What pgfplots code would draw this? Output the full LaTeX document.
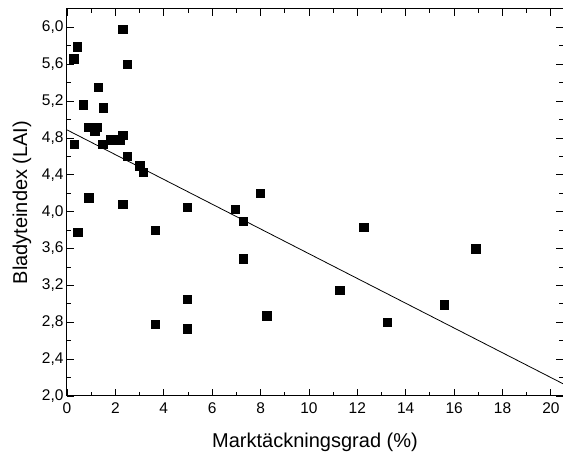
\documentclass[border=0pt]{standalone}
\usepackage{fontspec}
\setmainfont{Liberation Sans}
\usepackage{pgfplots}
\pgfplotsset{compat=1.18}
\begin{document}
\begin{tikzpicture}
\begin{axis}[
  name=ax,
  scale only axis,
  width=496pt, height=387pt,
  xmin=0, xmax=20.5, ymin=2, ymax=6.2,
  xtick={0,2,...,20},
  ytick={2.0,2.4,2.8,3.2,3.6,4.0,4.4,4.8,5.2,5.6,6.0},
  minor x tick num=1, minor y tick num=1,
  tick align=inside,
  major tick length=7pt, minor tick length=4pt,
  axis line style={line width=1pt},
  every tick/.style={black, line width=0.9pt},
  /pgf/number format/assume math mode=true,
  tick label style={font=\fontsize{15.5}{18}\selectfont},
  xticklabel style={yshift=-3pt, /pgf/number format/.cd, fixed, precision=0},
  yticklabel style={/pgf/number format/.cd, fixed, fixed zerofill, precision=1, use comma},
  label style={font=\fontsize{20}{24}\selectfont},
  xlabel={Marktäckningsgrad (\%)},
  ylabel={Bladyteindex (LAI)},
  xlabel style={at={(axis description cs:0.5,0)}, anchor=base, yshift=-52pt},
  ylabel style={at={(axis description cs:-0.0806,0.5)}, anchor=base, rotate=0},
]
\addplot[only marks, mark=square*, mark size=4.2pt, black] coordinates {
(0.27,5.66) (0.42,5.79) (2.30,5.98) (2.50,5.60) (1.30,5.35) (0.67,5.16)
(1.49,5.13) (0.90,4.92) (1.23,4.92) (1.14,4.88) (0.30,4.73) (1.47,4.73)
(1.80,4.78) (2.00,4.78) (2.20,4.78) (2.30,4.83) (2.50,4.60) (3.00,4.50)
(3.16,4.43) (0.90,4.15) (2.30,4.08) (4.97,4.05) (0.45,3.78) (3.65,3.80)
(4.97,3.05) (3.65,2.78) (4.97,2.73) (7.98,4.20) (6.95,4.03) (7.28,3.90)
(7.28,3.49) (8.26,2.87) (11.27,3.15) (12.26,3.83) (16.9,3.60) (15.59,2.99)
(13.24,2.80)
};
\addplot[black, line width=0.8pt] coordinates {(0,4.888) (20.5,2.133)};
\end{axis}
\pgfresetboundingbox
\path[use as bounding box] ([shift={(-67pt,-57pt)}]ax.south west) rectangle ([shift={(0pt,9pt)}]ax.north east);
\end{tikzpicture}
\end{document}
